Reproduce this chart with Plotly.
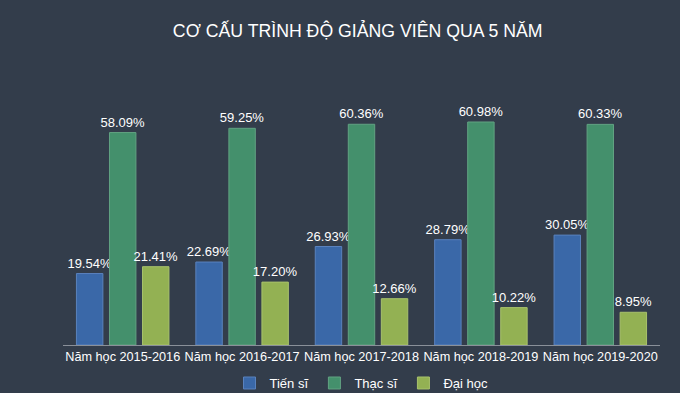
import plotly.graph_objects as go

categories = ["Năm học 2015-2016", "Năm học 2016-2017", "Năm học 2017-2018",
              "Năm học 2018-2019", "Năm học 2019-2020"]
tien_si = [19.54, 22.69, 26.93, 28.79, 30.05]
thac_si = [58.09, 59.25, 60.36, 60.98, 60.33]
dai_hoc = [21.41, 17.20, 12.66, 10.22, 8.95]

series = [
    ("Tiến sĩ", tien_si, "#3a68a8", "#5a82bd"),
    ("Thạc sĩ", thac_si, "#44906c", "#62a282"),
    ("Đại học", dai_hoc, "#93b153", "#a8c26c"),
]

fig = go.Figure()
for name, vals, col, edge in series:
    fig.add_trace(go.Bar(
        name=name, x=categories, y=vals,
        marker=dict(color=col, line=dict(color=edge, width=1)),
        text=[f"{v:.2f}%" for v in vals],
        textposition="outside",
        constraintext="none",
        textfont=dict(color="white", size=13, family="Liberation Sans, Arial"),
        cliponaxis=False,
        hoverinfo="skip",
    ))

bg = "#333d4b"
fig.update_layout(
    width=680, height=393,
    paper_bgcolor=bg, plot_bgcolor=bg,
    margin=dict(l=63, r=20, t=89, b=48, autoexpand=False),
    barmode="group", bargap=0.17, bargroupgap=0.2,
    title=dict(text="CƠ CẤU TRÌNH ĐỘ GIẢNG VIÊN QUA 5 NĂM", x=0.526, xanchor="center",
               y=0.922, yanchor="middle",
               font=dict(color="white", size=17.7, family="Liberation Sans, Arial")),
    font=dict(family="Liberation Sans, Arial", color="white"),
    showlegend=True,
    legend=dict(orientation="h", x=0.5, xanchor="center", y=-0.09, yanchor="top",
                font=dict(color="white", size=13), bgcolor="rgba(0,0,0,0)",
                itemwidth=30, traceorder="normal"),
    xaxis=dict(showline=True, linecolor="#8a9099", linewidth=1, ticks="",
               tickangle=0, automargin=False, fixedrange=True,
               tickfont=dict(color="white", size=12.7), showgrid=False),
    yaxis=dict(range=[0, 70], visible=False, showgrid=False, fixedrange=True),
)

fig.write_html("out.html", config={"displayModeBar": False},
               post_script="document.body.style.margin='0';document.body.style.background='#333d4b';")
